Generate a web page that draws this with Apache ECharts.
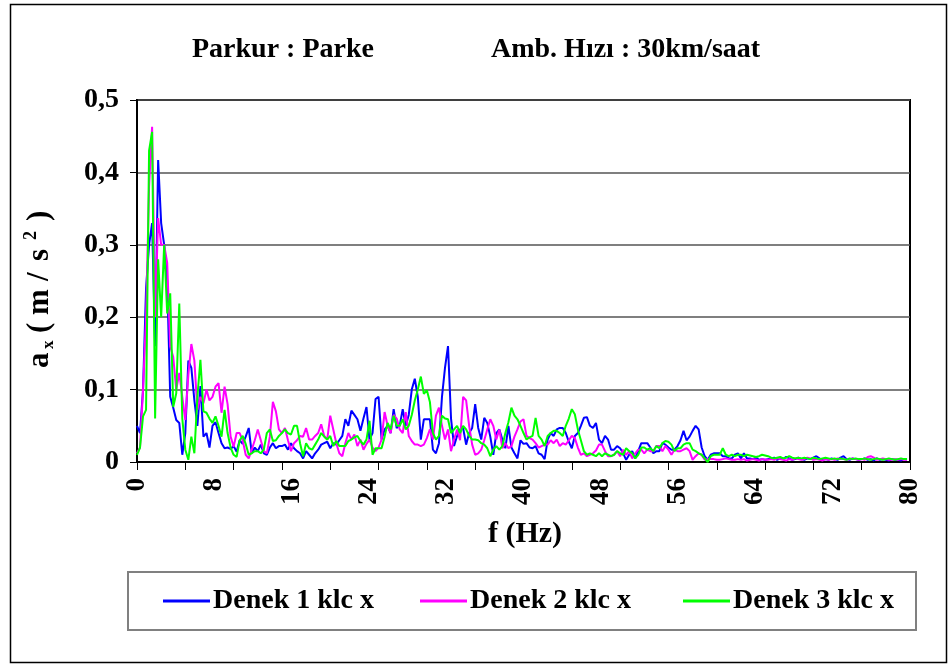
<!DOCTYPE html>
<html>
<head>
<meta charset="utf-8">
<script src="https://cdn.jsdelivr.net/npm/echarts@6/dist/echarts.min.js"></script>
<style>html,body{margin:0;padding:0;background:#fff}#c{width:949px;height:669px}</style>
</head>
<body>
<div id="c"></div>
<script>
// FFT frequency resolution (Hz per bin)
const freqStep = 0.3125;
const seriesNames = ['Denek 1 klc x', 'Denek 2 klc x', 'Denek 3 klc x'];
const xTickLabels = [0, 8, 16, 24, 32, 40, 48, 56, 64, 72, 80];
const yTickLabels = ['0', '0,1', '0,2', '0,3', '0,4', '0,5'];

const denek1 = [
0.05,0.04,0.10,0.24,0.30,0.33,0.16,0.417,0.33,0.30,
0.25,0.09,0.075,0.058,0.054,0.01,0.04,0.14,0.13,0.085,
0.05,0.105,0.035,0.04,0.02,0.05,0.055,0.04,0.026,0.019,
0.02,0.018,0.022,0.014,0.03,0.025,0.035,0.047,0.012,0.02,
0.015,0.024,0.012,0.01,0.02,0.026,0.019,0.022,0.022,0.024,
0.017,0.026,0.019,0.015,0.012,0.005,0.015,0.01,0.005,0.012,
0.017,0.024,0.026,0.028,0.019,0.026,0.024,0.03,0.036,0.059,
0.05,0.071,0.065,0.059,0.043,0.06,0.076,0.031,0.04,0.087,
0.09,0.031,0.045,0.05,0.04,0.073,0.047,0.05,0.073,0.05,
0.065,0.1,0.115,0.09,0.031,0.059,0.059,0.059,0.017,0.012,
0.026,0.09,0.13,0.16,0.06,0.022,0.036,0.045,0.047,0.024,
0.04,0.047,0.08,0.047,0.031,0.061,0.054,0.035,0.01,0.04,
0.045,0.031,0.019,0.05,0.02,0.012,0.005,0.03,0.025,0.026,
0.02,0.019,0.022,0.012,0.01,0.004,0.031,0.04,0.036,0.045,
0.047,0.047,0.04,0.028,0.019,0.036,0.04,0.05,0.061,0.062,
0.05,0.047,0.054,0.031,0.026,0.036,0.031,0.017,0.017,0.022,
0.019,0.012,0.003,0.01,0.015,0.005,0.015,0.026,0.026,0.026,
0.02,0.012,0.015,0.015,0.026,0.024,0.02,0.017,0.017,0.022,
0.03,0.043,0.03,0.035,0.043,0.05,0.045,0.02,0.008,0.003,
0.01,0.012,0.012,0.012,0.008,0.008,0.005,0.005,0.01,0.012,
0.005,0.012,0.005,0.005,0.004,0.006,0.003,0.004,0.003,0.004,
0.004,0.006,0.003,0.005,0.004,0.007,0.005,0.003,0.004,0.006,
0.004,0.003,0.005,0.004,0.006,0.008,0.005,0.003,0.004,0.003,
0.005,0.004,0.003,0.006,0.008,0.004,0.003,0.005,0.004,0.003,
0.004,0.005,0.003,0.004,0.002,0.005,0.003,0.004,0.003,0.002,
0.004,0.003,0.003,0.002,0.004,0.003];

const denek2 = [
0.012,0.02,0.1,0.2,0.38,0.463,0.2,0.337,0.3,0.3,
0.275,0.16,0.145,0.1,0.123,0.09,0.058,0.12,0.163,0.14,
0.072,0.09,0.081,0.1,0.085,0.09,0.104,0.109,0.068,0.104,
0.08,0.035,0.021,0.04,0.04,0.03,0.01,0.005,0.017,0.03,
0.045,0.03,0.015,0.012,0.035,0.083,0.07,0.045,0.04,0.047,
0.03,0.015,0.026,0.03,0.036,0.035,0.047,0.031,0.031,0.036,
0.04,0.052,0.036,0.031,0.064,0.045,0.026,0.012,0.008,0.026,
0.04,0.031,0.038,0.022,0.031,0.017,0.025,0.031,0.02,0.015,
0.02,0.031,0.069,0.05,0.04,0.065,0.06,0.045,0.04,0.069,
0.036,0.029,0.024,0.024,0.022,0.024,0.033,0.045,0.031,0.064,
0.075,0.05,0.031,0.045,0.015,0.031,0.045,0.03,0.09,0.085,
0.05,0.024,0.01,0.012,0.017,0.03,0.045,0.059,0.05,0.031,
0.045,0.019,0.026,0.019,0.022,0.035,0.045,0.056,0.059,0.036,
0.033,0.031,0.026,0.02,0.022,0.024,0.024,0.03,0.026,0.031,
0.022,0.026,0.024,0.03,0.036,0.033,0.02,0.01,0.012,0.008,
0.01,0.012,0.016,0.024,0.024,0.015,0.008,0.008,0.01,0.015,
0.008,0.017,0.01,0.015,0.005,0.012,0.017,0.017,0.012,0.017,
0.015,0.015,0.022,0.022,0.015,0.022,0.017,0.01,0.017,0.015,
0.015,0.017,0.019,0.015,0.003,0.008,0.012,0.01,0.003,0.004,
0.004,0.004,0.003,0.003,0.004,0.005,0.004,0.003,0.003,0.004,
0.003,0.004,0.002,0.003,0.004,0.003,0.002,0.004,0.003,0.003,
0.004,0.003,0.005,0.004,0.003,0.002,0.004,0.003,0.005,0.004,
0.003,0.004,0.006,0.005,0.003,0.004,0.003,0.002,0.004,0.003,
0.004,0.003,0.005,0.004,0.004,0.003,0.004,0.005,0.004,0.003,
0.004,0.003,0.007,0.008,0.006,0.003,0.004,0.005,0.004,0.003,
0.003,0.004,0.003,0.004,0.003,0.003];

const denek3 = [
0.01,0.02,0.063,0.072,0.43,0.456,0.06,0.28,0.2,0.3,
0.205,0.233,0.076,0.095,0.219,0.06,0.017,0.003,0.035,0.012,
0.09,0.141,0.07,0.068,0.06,0.054,0.063,0.05,0.035,0.072,
0.04,0.02,0.01,0.007,0.03,0.036,0.025,0.01,0.012,0.015,
0.015,0.012,0.017,0.04,0.045,0.029,0.03,0.036,0.04,0.045,
0.04,0.038,0.05,0.05,0.026,0.008,0.026,0.019,0.017,0.024,
0.031,0.04,0.035,0.031,0.036,0.022,0.029,0.022,0.022,0.022,
0.029,0.031,0.034,0.036,0.029,0.024,0.031,0.057,0.01,0.019,
0.019,0.019,0.035,0.054,0.045,0.064,0.05,0.05,0.059,0.045,
0.05,0.065,0.085,0.1,0.118,0.094,0.099,0.083,0.04,0.031,
0.036,0.064,0.06,0.059,0.04,0.045,0.05,0.04,0.05,0.045,
0.036,0.031,0.031,0.03,0.026,0.024,0.019,0.008,0.017,0.022,
0.017,0.022,0.04,0.055,0.075,0.064,0.059,0.05,0.04,0.031,
0.034,0.036,0.061,0.036,0.031,0.022,0.036,0.04,0.043,0.043,
0.04,0.036,0.05,0.06,0.073,0.066,0.045,0.03,0.015,0.01,
0.012,0.01,0.008,0.012,0.008,0.012,0.01,0.008,0.01,0.015,
0.012,0.01,0.019,0.015,0.012,0.005,0.01,0.02,0.02,0.017,
0.019,0.015,0.022,0.019,0.026,0.029,0.028,0.024,0.015,0.019,
0.019,0.024,0.026,0.026,0.017,0.015,0.012,0.01,0.005,0.0,
0.008,0.01,0.01,0.01,0.019,0.01,0.008,0.01,0.008,0.01,
0.01,0.008,0.01,0.009,0.008,0.007,0.008,0.01,0.009,0.008,
0.006,0.005,0.006,0.007,0.005,0.006,0.008,0.006,0.005,0.006,
0.005,0.006,0.005,0.004,0.006,0.005,0.004,0.005,0.006,0.005,
0.004,0.005,0.004,0.005,0.004,0.003,0.005,0.004,0.005,0.004,
0.004,0.005,0.004,0.003,0.004,0.005,0.004,0.003,0.004,0.005,
0.004,0.003,0.004,0.005,0.004,0.004];

const FONT = "'Liberation Serif', 'Times New Roman', serif";
const colors = ['#0000FF', '#FF00FF', '#00FF00'];
const allData = [denek1, denek2, denek3];

function pairs(arr) { return arr.map((v, i) => [i * freqStep, v]); }

const chart = echarts.init(document.getElementById('c'), null, { renderer: 'canvas' });

const legendLefts = [163, 420, 683];

chart.setOption({
  animation: false,
  backgroundColor: '#fff',
  title: [
    { text: 'Parkur : Parke', left: 187, top: 31, textStyle: { fontFamily: FONT, fontWeight: 'bold', fontSize: 28, color: '#000' } },
    { text: 'Amb. Hızı : 30km/saat', left: 486, top: 31, textStyle: { fontFamily: FONT, fontWeight: 'bold', fontSize: 28, color: '#000' } }
  ],
  legend: seriesNames.map((n, k) => ({
    data: [n], left: legendLefts[k], top: 587, padding: 0, itemGap: 0,
    icon: 'rect', itemWidth: 47, itemHeight: 3, selectedMode: false,
    textStyle: { fontFamily: FONT, fontWeight: 'bold', fontSize: 28, color: '#000', padding: [0, 0, 0, -2] }
  })),
  grid: { left: 137, top: 100, width: 773, height: 362, show: true, borderColor: '#000', borderWidth: 2, backgroundColor: 'transparent' },
  xAxis: [
    {
      type: 'value', min: 0, max: 80, interval: 8,
      axisLine: { show: true, lineStyle: { color: '#000', width: 2 } },
      axisTick: { show: false },
      splitLine: { show: false },
      axisLabel: {
        rotate: 90, margin: 16, fontFamily: FONT, fontWeight: 'bold', fontSize: 27, color: '#000',
        formatter: v => (xTickLabels.indexOf(v) >= 0 ? String(v) : '')
      }
    },
    {
      type: 'value', min: 0, max: 80, interval: 5, position: 'bottom',
      axisLine: { show: false },
      axisTick: { show: true, length: 8, lineStyle: { color: '#000', width: 1 } },
      axisLabel: { show: false },
      splitLine: { show: false }
    }
  ],
  yAxis: {
    type: 'value', min: 0, max: 0.5, interval: 0.1,
    axisLine: { show: true, lineStyle: { color: '#000', width: 2 } },
    axisTick: { show: true, length: 7, lineStyle: { color: '#000', width: 1 } },
    splitLine: { show: true, lineStyle: { color: '#555', width: 1.5 } },
    axisLabel: {
      margin: 18, fontFamily: FONT, fontWeight: 'bold', fontSize: 28, color: '#000',
      formatter: v => yTickLabels[Math.round(v * 10)]
    }
  },
  series: allData.map((d, k) => ({
    name: seriesNames[k], type: 'line', xAxisIndex: 0, data: pairs(d),
    showSymbol: false, symbol: 'none', smooth: false,
    lineStyle: { color: colors[k], width: 2 }, itemStyle: { color: colors[k] }
  })),
  graphic: [
    { type: 'rect', shape: { x: 10.5, y: 4.5, width: 936, height: 658 }, style: { fill: 'none', stroke: '#000', lineWidth: 1.5 }, silent: true },
    { type: 'rect', shape: { x: 128, y: 572, width: 788, height: 58 }, style: { fill: 'none', stroke: '#808080', lineWidth: 2 }, silent: true },
    { type: 'text', x: 525, y: 534, style: { text: 'f (Hz)', font: 'bold 30px ' + FONT, fill: '#000', align: 'center', verticalAlign: 'middle' }, silent: true },
    {
      type: 'group', x: 40, y: 368, rotation: Math.PI / 2, silent: true,
      children: [
        { type: 'text', x: 0, y: 0, style: { text: 'a', font: 'bold 31px ' + FONT, fill: '#000', verticalAlign: 'middle' } },
        { type: 'text', x: 19, y: 9, style: { text: 'x', font: 'bold 17px ' + FONT, fill: '#000', verticalAlign: 'middle' } },
        { type: 'text', x: 35, y: 0, style: { text: '(', font: 'bold 31px ' + FONT, fill: '#000', verticalAlign: 'middle' } },
        { type: 'text', x: 53, y: 0, style: { text: 'm', font: 'bold 31px ' + FONT, fill: '#000', verticalAlign: 'middle' } },
        { type: 'text', x: 87, y: 0, style: { text: '/', font: 'bold 31px ' + FONT, fill: '#000', verticalAlign: 'middle' } },
        { type: 'text', x: 107, y: 0, style: { text: 's', font: 'bold 31px ' + FONT, fill: '#000', verticalAlign: 'middle' } },
        { type: 'text', x: 128, y: -9, style: { text: '2', font: 'bold 18px ' + FONT, fill: '#000', verticalAlign: 'middle' } },
        { type: 'text', x: 147, y: 0, style: { text: ')', font: 'bold 31px ' + FONT, fill: '#000', verticalAlign: 'middle' } }
      ]
    }
  ]
});
</script>
</body>
</html>
